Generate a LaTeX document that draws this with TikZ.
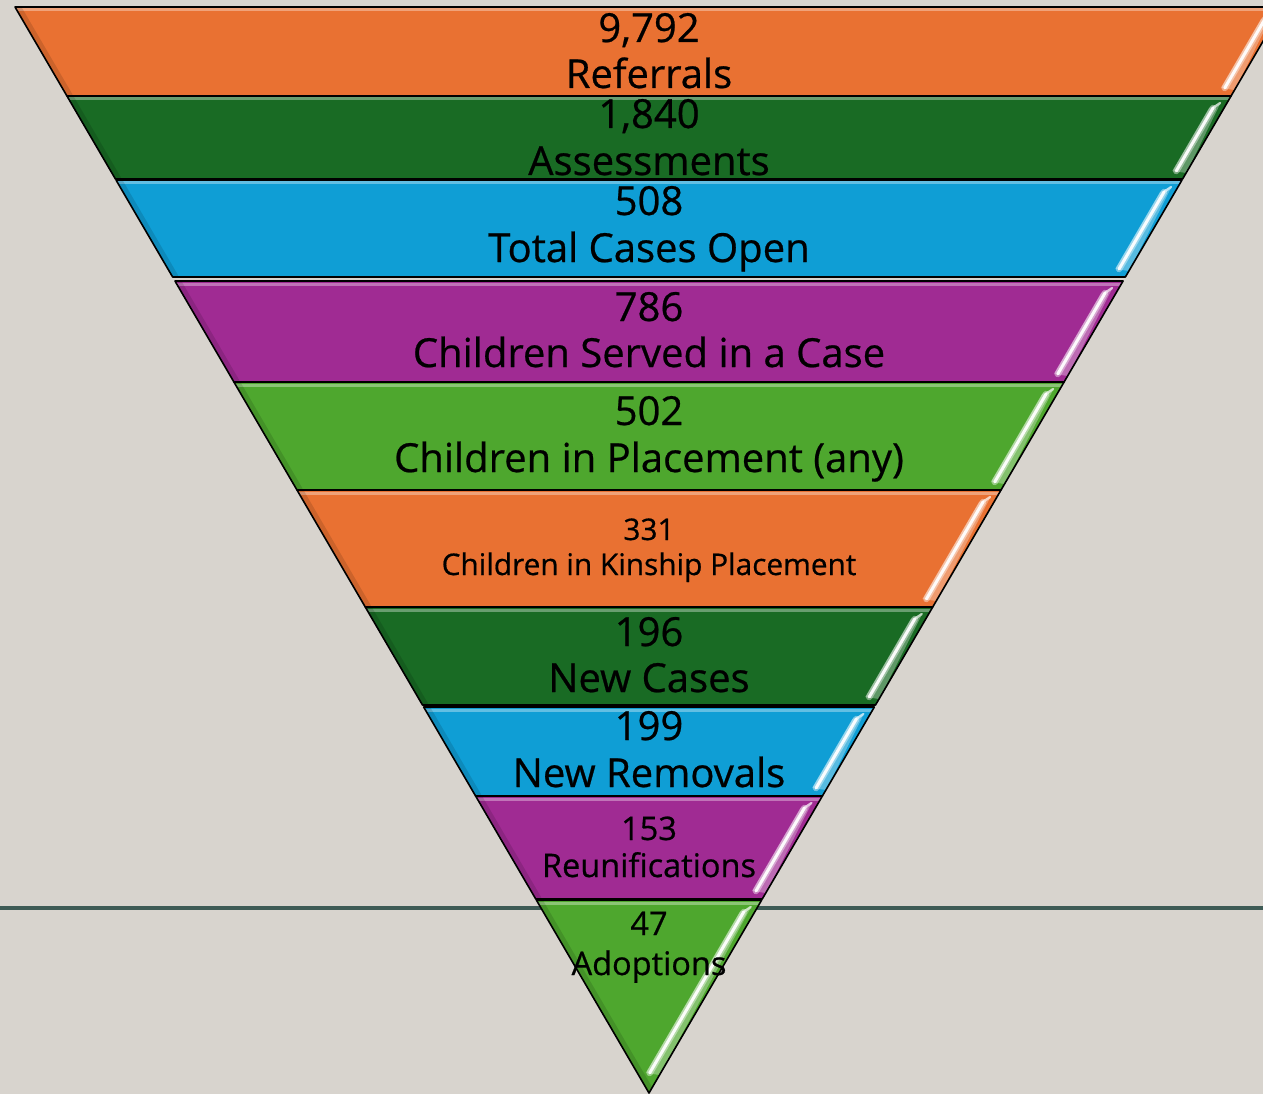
\documentclass[tikz,border=0pt]{standalone}
\usepackage{fontspec}
\setmainfont{Open Sans}[BoldFont={Open Sans}, BoldFeatures={FakeBold=0.6}]
\definecolor{bg}{RGB}{216,212,206}
\definecolor{cOr}{HTML}{E97132}
\definecolor{cDg}{HTML}{196B24}
\definecolor{cBl}{HTML}{0F9ED5}
\definecolor{cPu}{HTML}{A02B93}
\definecolor{cLg}{HTML}{4EA72E}
\definecolor{rule}{HTML}{3E5B55}
\tikzset{
  band/.style={draw=black, line width=1.6pt, line join=round},
  lbl/.style={anchor=base, inner sep=0pt, text=black},
  big/.style={lbl, font=\fontsize{40}{46}\selectfont\bfseries},
  mid/.style={lbl, font=\fontsize{32.5}{37}\selectfont\bfseries},
  small/.style={lbl, font=\fontsize{29.8}{34}\selectfont\bfseries},
}
\begin{document}
\begin{tikzpicture}[x=1pt,y=-1pt]
\useasboundingbox (0,0) rectangle (1263,1094);
\clip (0,0) rectangle (1263,1094);
\fill[bg] (0,0) rectangle (1263,1094);
\draw[rule, line width=3.5pt] (0,908) -- (1263,908);
\foreach \t/\b/\c/\e in {7/96/cOr/8, 96/179/cDg/8, 180/277/cBl/8, 281/382/cPu/8, 382/490/cLg/8, 490/607/cOr/8, 607/705/cDg/8, 707/796/cBl/8, 796/899/cPu/8, 900/1093/cLg/20}{
  \pgfmathsetmacro\xlt{649-0.5838*(1093-\t)}
  \pgfmathsetmacro\xrt{649+0.5838*(1093-\t)}
  \pgfmathsetmacro\xlb{649-0.5838*(1093-\b)}
  \pgfmathsetmacro\xrb{649+0.5838*(1093-\b)}
  \pgfmathsetmacro\sta{\t+12}
  \pgfmathsetmacro\stb{\b-\e}
  \pgfmathsetmacro\xsa{649+0.5838*(1093-\sta)-11}
  \pgfmathsetmacro\xsb{649+0.5838*(1093-\stb)-11}
  \fill[\c] (\xlt,\t) -- (\xrt,\t) -- (\xrb,\b) -- (\xlb,\b) -- cycle;
  \begin{scope}
    \clip (\xlt,\t) -- (\xrt,\t) -- (\xrb,\b) -- (\xlb,\b) -- cycle;
    \draw[white, opacity=.35, line width=3pt] (\xlt,\t+3) -- (\xrt,\t+3);
    \draw[black, opacity=.12, line width=6pt] (\xlt+3,\t) -- (\xlb+3,\b);
    \fill[white, opacity=.30] (\xsa-4,\sta) -- (\xsa+8,\sta-6) -- (\xsb+10,\stb+2) -- (\xsb-4,\stb) -- cycle;
    \draw[white, opacity=.4, line width=6.5pt, line cap=round] (\xsa,\sta) -- (\xsb,\stb);
    \draw[white, opacity=.95, line width=3pt, line cap=round] (\xsa,\sta) -- (\xsb,\stb);
    \draw[white, opacity=.6, line width=2.4pt, line cap=round] (\xsa,\sta) -- (\xsa+7,\sta-5);
  \end{scope}
  \draw[band] (\xlt,\t) -- (\xrt,\t) -- (\xrb,\b) -- (\xlb,\b) -- cycle;
}
\node[big] (n1) at (649,42) {9,792};
\node[big] (l1) at (649,88) {Referrals};
\node[big] (n2) at (649,128) {1,840};
\node[big] (l2) at (649,175) {Assessments};
\node[big] (n3) at (649,215) {508};
\node[big] (l3) at (649,262) {Total Cases Open};
\node[big] (n4) at (649,321) {786};
\node[big] (l4) at (649,367) {Children Served in a Case};
\node[big] (n5) at (649,425) {502};
\node[big] (l5) at (649,472) {Children in Placement (any)};
\node[small] (n6) at (649,540) {331};
\node[small] (l6) at (649,575) {Children in Kinship Placement};
\node[big] (n7) at (649,646) {196};
\node[big] (l7) at (649,692) {New Cases};
\node[big] (n8) at (649,740) {199};
\node[big] (l8) at (649,787) {New Removals};
\node[mid] (n9) at (649,840) {153};
\node[mid] (l9) at (649,877) {Reunifications};
\node[mid] (n10) at (649,935) {47};
\node[mid] (l10) at (649,975) {Adoptions};
\end{tikzpicture}
\end{document}
